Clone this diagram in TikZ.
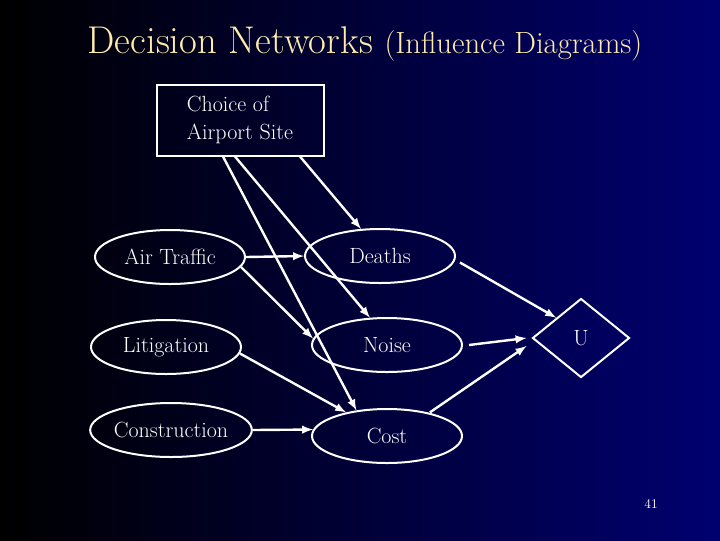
\documentclass[tikz,border=0pt]{standalone}
\usepackage{mathptmx}
\usetikzlibrary{positioning,shapes.geometric,arrows}
\definecolor{slideblue}{RGB}{0,0,112}
\definecolor{titlecol}{RGB}{255,236,170}

\begin{document}
\begin{tikzpicture}[x=0.75pt, y=-0.75pt, item/.style={ellipse,draw=white,line width=1.5pt,text=white,
minimum width=150*0.75pt,minimum height=54*0.75pt,font=\fontsize{16.5}{19}\selectfont},
link/.style={draw=white,line width=1.8pt,-latex}]

%background
\shade[left color=black, right color=slideblue] (0,0) rectangle (720,540);

\node[text=titlecol, font=\fontsize{29}{32}\selectfont] (title) at (365,44)
	{Decision Networks {\fontsize{23}{26}\selectfont (Influence Diagrams)}};

%nodes
\node[draw=white,line width=1.5pt,text=white,minimum width=167*0.75pt,minimum height=71*0.75pt,
	align=left,font=\fontsize{16.5}{21}\selectfont] (site) at (240,120) {Choice of\\Airport Site};
\node[item] (traffic) at (170,257) {Air Traffic};
\node[item] (litig) at (166,347) {Litigation};
\node[item,inner xsep=0pt] (constr) at (171,430) {Construction};
\node[item] (deaths) at (380,256) {Deaths};
\node[item] (noise) at (387,345) {Noise};
\node[item] (cost) at (387,436) {Cost};
\node[diamond,draw=white,line width=1.5pt,text=white,minimum width=97*0.75pt,minimum height=79*0.75pt,
	aspect=1.2,font=\fontsize{16.5}{19}\selectfont] (util) at (581,338) {U};
\node[text=white, font=\fontsize{10}{12}\selectfont] (num) at (651,504) {41};

%arrows
\draw[link] ([xshift=60*0.75pt]site.south) -- (deaths.125);
\draw[link] ([xshift=-5*0.75pt]site.south) -- (noise.122);
\draw[link] ([xshift=-17*0.75pt]site.south) -- (cost.140);
\draw[link] (traffic.east) -- (deaths.west);
\draw[link] (traffic.-8) -- (noise.175);
\draw[link] (litig.-5) -- (cost.150);
\draw[link] (constr.east) -- (cost.175);
\draw[link] ([xshift=6*0.75pt]deaths.-5) -- (util.north west);
\draw[link] ([xshift=6*0.75pt]noise.east) -- ([xshift=-5*0.75pt]util.west);
\draw[link] ([xshift=2*0.75pt]cost.30) -- ([xshift=-5*0.75pt,yshift=-8*0.75pt]util.west);
\end{tikzpicture}
\end{document}
